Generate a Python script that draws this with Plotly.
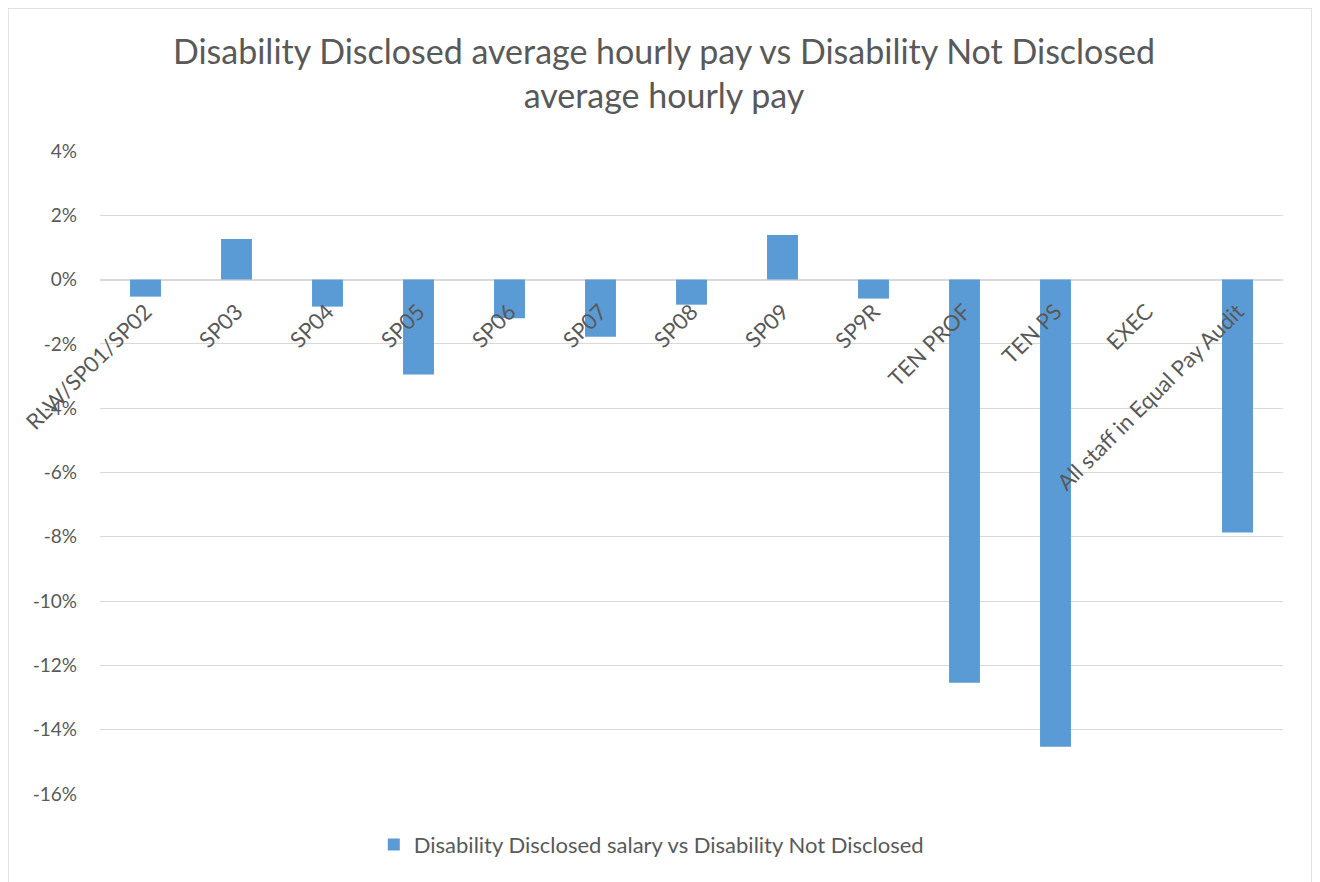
import plotly.graph_objects as go

categories = ["RLW/SP01/SP02", "SP03", "SP04", "SP05", "SP06", "SP07", "SP08",
              "SP09", "SP9R", "TEN PROF", "TEN PS", "EXEC", "All staff in Equal Pay Audit"]
values = [-0.53, 1.26, -0.84, -2.95, -1.20, -1.78, -0.78, 1.39, -0.59, -12.54, -14.53, 0.0, -7.87]
series_name = "Disability Disclosed salary vs Disability Not Disclosed"
title_text = "Disability Disclosed average hourly pay vs Disability Not Disclosed<br>average hourly pay"
y_tickvals = [-16, -14, -12, -10, -8, -6, -4, -2, 0, 2, 4]
y_ticktext = ["-16%", "-14%", "-12%", "-10%", "-8%", "-6%", "-4%", "-2%", "0%", "2%", "4%"]

FONT = "Lato"
GREY = "#595959"
GRID = "#D9D9D9"
BLUE = "#5B9BD5"

W, H = 1312, 874

fig = go.Figure()
fig.add_trace(go.Bar(x=categories, y=values, name=series_name,
                     marker=dict(color=BLUE, line=dict(width=0)),
                     showlegend=True))

fig.update_layout(
    width=W, height=H,
    paper_bgcolor="white", plot_bgcolor="white",
    margin=dict(l=92, r=37, t=143, b=88, autoexpand=False),
    bargap=0.66,
    font=dict(family=FONT, color=GREY, size=20),
    title=dict(text=title_text, x=0.5, xref="container", xanchor="center",
               y=1 - 56 / H, yref="container", yanchor="top",
               font=dict(family=FONT, size=34, color=GREY)),
    showlegend=True,
    legend=dict(orientation="h", x=0.466, xanchor="center", y=-0.079, yanchor="middle",
                font=dict(family=FONT, size=22, color=GREY), bgcolor="rgba(0,0,0,0)"),
    xaxis=dict(anchor="free", position=0.8, tickangle=-45, showgrid=False,
               showline=False, ticks="", ticklabelstandoff=14,
               tickfont=dict(family=FONT, size=22, color=GREY),
               automargin=False),
    yaxis=dict(range=[-16, 4], tickvals=y_tickvals, ticktext=y_ticktext,
               showgrid=True, gridcolor=GRID, gridwidth=1, zeroline=True,
               zerolinecolor=GRID, zerolinewidth=1.5, showline=False, ticks="",
               ticklabelstandoff=22, tickfont=dict(family=FONT, size=19, color=GREY),
               automargin=False),
    shapes=[dict(type="rect", xref="paper", yref="paper",
                 x0=-0.0778, x1=1.0245, y0=-0.17, y1=1.2224,
                 line=dict(color=GRID, width=1.5), fillcolor="rgba(0,0,0,0)", layer="below")],
)

fig.write_html("out.html")
